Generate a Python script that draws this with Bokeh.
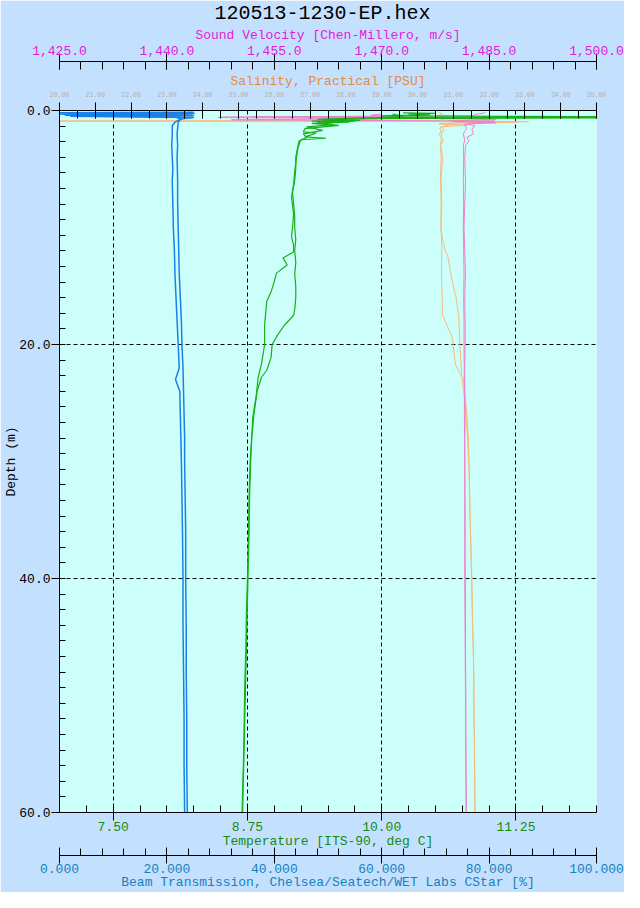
from bokeh.plotting import figure
from bokeh.models import Range1d, LinearAxis, FixedTicker, NumeralTickFormatter, Title
from bokeh.embed import file_html
from bokeh.resources import INLINE

FONT = "Liberation Mono"
PAGE_BG = "#c4e0ff"
PLOT_BG = "#ccfffa"

title_text = "120513-1230-EP.hex"
sv_label = "Sound Velocity [Chen-Millero, m/s]"
sal_label = "Salinity, Practical [PSU]"
temp_label = "Temperature [ITS-90, deg C]"
beam_label = "Beam Transmission, Chelsea/Seatech/WET Labs CStar [%]"
depth_label = "Depth (m)"

# ---- tick definitions ----
temp_ticks = [7.5, 8.75, 10.0, 11.25]
temp_minor = [7.0 + 0.25 * i for i in range(21)]
sv_ticks = [1425, 1440, 1455, 1470, 1485, 1500]
sv_minor = [1425 + 3 * i for i in range(26)]
sal_ticks = [20 + i for i in range(16)]
sal_minor = [20 + 0.5 * i for i in range(31)]
beam_ticks = [0, 20, 40, 60, 80, 100]
beam_minor = [4 * i for i in range(26)]
depth_ticks = [0, 20, 40, 60]
depth_minor = [i * 4 / 3 for i in range(46)]

# ---- data: beam transmission (%) ----
beam_depth_a = [0.15, 0.2, 0.25, 0.3, 0.35, 0.4, 0.45, 0.5, 0.55, 0.6, 0.7, 0.8, 1.0, 1.3, 2, 3, 4, 5, 6, 8,
                10, 12, 14, 16, 18, 20, 22, 23, 24, 26, 28, 30, 33, 36, 40, 44, 48, 52, 56, 60]
beam_a = [25.0, 0.0, 25.2, 0.5, 24.8, 1.0, 25.0, 9.0, 22.5, 21.8, 22.6, 22.3, 21.5, 21.0, 21.0, 20.9, 21.0, 21.1, 21.0, 21.1,
          21.2, 21.4, 21.5, 21.7, 21.9, 22.1, 22.3, 21.6, 22.4, 22.5, 22.6, 22.7, 22.8, 22.9, 23.0, 23.0, 23.1, 23.2, 23.2, 23.3]
beam_depth_b = [0.3, 0.4, 0.5, 0.6, 0.7, 0.8, 0.9, 1.0, 1.5, 2, 3, 4, 6, 8, 10, 12, 14, 16, 18, 20,
                22, 24, 26, 28, 30, 33, 36, 40, 44, 48, 52, 56, 60]
beam_b = [0.0, 24.0, 2.0, 25.0, 23.0, 22.4, 22.3, 22.1, 22.0, 21.9, 22.0, 21.9, 22.0, 22.0, 22.1, 22.2, 22.3, 22.5, 22.7, 22.8,
          23.0, 23.1, 23.2, 23.3, 23.3, 23.4, 23.5, 23.5, 23.6, 23.6, 23.7, 23.7, 23.8]

# ---- data: temperature (deg C) ----
temp_depth_a = [0.2, 0.25, 0.3, 0.35, 0.45, 0.55, 0.6, 0.65, 0.75, 0.85, 0.9, 1.0, 1.1, 1.27, 1.55, 1.83, 1.94, 2.26, 2.37, 2.5,
                2.68, 3.2, 3.8, 4.5, 5.2, 6.3, 7.4, 8.9, 10.0, 10.8, 11.5, 12.1, 12.6, 13.2, 13.9, 14.6, 15.5, 16.3, 17.3, 18.3,
                20.0, 21.7, 22.8, 24.5, 26.2, 27.9, 30, 33, 36, 40, 43, 46, 49, 52, 55, 58, 60]
temp_a = [10.2, 10.5, 10.25, 10.45, 10.0, 12.6, 10.0, 9.75, 9.4, 9.8, 9.35, 9.7, 9.35, 9.6, 9.285, 9.27, 9.39, 9.285, 9.48, 9.25,
          9.24, 9.22, 9.21, 9.20, 9.19, 9.18, 9.16, 9.18, 9.17, 9.16, 9.18, 9.18, 9.08, 9.12, 9.02, 9.0, 8.97, 8.93, 8.92, 8.91,
          8.91, 8.88, 8.85, 8.83, 8.80, 8.79, 8.775, 8.765, 8.76, 8.75, 8.74, 8.735, 8.725, 8.72, 8.715, 8.705, 8.70]
temp_depth_b = [0.3, 0.5, 0.57, 0.62, 0.7, 0.8, 0.9, 1.0, 1.2, 1.4, 1.7, 2.0, 2.3, 2.6, 3.0, 4, 5, 6, 7, 8,
                9, 10, 11, 12, 13, 14, 15, 16, 17, 17.5, 18.4, 19.2, 20, 21.1, 22.2, 22.8, 24, 26, 28, 30,
                33, 36, 40, 44, 48, 52, 56, 60]
temp_b = [10.1, 10.2, 10.0, 12.6, 9.9, 9.45, 9.75, 9.4, 9.55, 9.3, 9.45, 9.27, 9.3, 9.23, 9.22, 9.20, 9.20, 9.19, 9.17, 9.18,
          9.19, 9.19, 9.20, 9.19, 9.2, 9.19, 9.2, 9.2, 9.19, 9.18, 9.09, 9.03, 8.98, 8.97, 8.93, 8.88, 8.84, 8.81, 8.79, 8.78,
          8.77, 8.765, 8.755, 8.745, 8.735, 8.725, 8.715, 8.705]

# ---- data: sound velocity (m/s) ----
sv_depth_a = [0.1, 0.2, 0.35, 0.45, 0.55, 0.6, 0.7, 0.8, 0.9, 0.95, 1.05, 1.15, 1.3, 1.6, 2.0, 2.3, 2.6, 3.0, 4, 6,
              8, 10, 12, 14, 16, 18, 20, 22, 24, 26, 28, 30, 34, 38, 42, 46, 50, 54, 58, 60]
sv_a = [1484.4, 1484.4, 1483.0, 1482.6, 1448.0, 1447.2, 1469.5, 1449.0, 1485.8, 1480.0, 1486.0, 1482.0, 1483.0, 1482.6, 1482.8,
        1481.9, 1482.2, 1481.7, 1481.6, 1481.7, 1481.6, 1481.5, 1481.6, 1481.7, 1481.6, 1481.65, 1481.65, 1481.6, 1481.6,
        1481.65, 1481.6, 1481.6, 1481.65, 1481.65, 1481.7, 1481.7, 1481.75, 1481.75, 1481.8, 1481.8]
sv_depth_b = [0.3, 0.4, 0.5, 0.55, 0.65, 0.75, 0.85, 1.0, 1.2, 1.5, 2.0, 2.5, 3, 4, 6, 8, 10, 12, 14, 16,
              18, 20, 23, 26, 30, 35, 40, 45, 50, 55, 60]
sv_b = [1470.0, 1468.5, 1470.2, 1452.0, 1478.0, 1486.0, 1479.5, 1484.5, 1481.5, 1481.9, 1481.4, 1481.6, 1481.4, 1481.45,
        1481.4, 1481.45, 1481.4, 1481.45, 1481.5, 1481.45, 1481.5, 1481.5, 1481.55, 1481.55, 1481.6, 1481.6, 1481.6,
        1481.65, 1481.7, 1481.75, 1481.8]

# ---- data: salinity (PSU) ----
sal_depth_a = [0.15, 0.3, 0.5, 0.7, 0.85, 0.9, 0.95, 1.05, 1.15, 1.25, 1.4, 1.7, 2.0, 2.5, 3, 4, 6, 8, 10, 12,
               14, 16, 17.5, 18.4, 19.4, 21.7, 22.5, 22.8, 24, 26, 28, 30, 33, 36, 40, 43, 46, 48, 52, 56, 60]
sal_a = [30.6, 30.7, 30.55, 30.75, 30.6, 15.0, 33.1, 31.2, 30.6, 31.4, 30.65, 30.75, 30.6, 30.72, 30.65, 30.7, 30.66, 30.68,
         30.66, 30.68, 30.67, 30.69, 30.70, 30.83, 30.97, 31.06, 31.19, 31.28, 31.32, 31.38, 31.42, 31.44, 31.46, 31.48,
         31.51, 31.53, 31.56, 31.57, 31.58, 31.59, 31.60]
sal_depth_b = [0.4, 0.6, 0.8, 1.0, 1.1, 1.2, 1.5, 2, 3, 4, 6, 8, 10, 11, 12, 12.5, 13.8, 15, 16, 17.5,
               20.3, 22.8, 25, 28, 31, 35, 40, 44, 48, 52, 56, 60]
sal_b = [30.8, 30.55, 30.75, 32.8, 30.65, 30.9, 30.62, 30.68, 30.64, 30.66, 30.64, 30.66, 30.65, 30.70, 30.78, 30.85,
         30.92, 31.0, 31.08, 31.15, 31.19, 31.24, 31.33, 31.40, 31.44, 31.47, 31.52, 31.54, 31.57, 31.58, 31.60, 31.61]

C_BEAM = "#1a80e8"
C_TEMP = "#18b018"
C_SV = "#f080c8"
C_SAL = "#f4bc80"

p = figure(width=624, height=892, output_backend="svg", toolbar_location=None,
           x_range=Range1d(7.0, 12.0), y_range=Range1d(60, 0),
           min_border_left=59, min_border_right=28, min_border_top=100, min_border_bottom=78,
           background_fill_color=PLOT_BG, border_fill_color=PAGE_BG, outline_line_color=None)
p.extra_x_ranges = {"sv": Range1d(1425, 1500), "sal": Range1d(20, 35), "beam": Range1d(0, 100)}


def style_axis(ax, label, lcolor, tcolor, ticks, minor, fmt, tsize="13px"):
    ax.ticker = FixedTicker(ticks=ticks, minor_ticks=minor)
    ax.formatter = NumeralTickFormatter(format=fmt)
    ax.axis_label = label
    ax.axis_label_text_font = FONT
    ax.axis_label_text_font_size = "13px"
    ax.axis_label_text_font_style = "normal"
    ax.axis_label_text_color = lcolor
    ax.major_label_text_font = FONT
    ax.major_label_text_font_size = tsize
    ax.major_label_text_color = tcolor
    ax.axis_line_color = "black"
    ax.major_tick_line_color = "black"
    ax.minor_tick_line_color = "black"


# temperature (bottom, closest)
tax = p.xaxis[0]
style_axis(tax, temp_label, "#148a14", "#148a14", temp_ticks, temp_minor, "0.00")
tax.major_tick_in, tax.major_tick_out, tax.minor_tick_in, tax.minor_tick_out = 7, 8, 7, 0
tax.major_label_standoff, tax.axis_label_standoff = 1, 0

# depth (left)
dax = p.yaxis[0]
style_axis(dax, depth_label, "black", "black", depth_ticks, depth_minor, "0.0")
dax.major_tick_in, dax.major_tick_out, dax.minor_tick_in, dax.minor_tick_out = 0, 8, 6, 0
dax.major_label_standoff, dax.axis_label_standoff = 1, -3

# salinity (top, closest)
sal_ax = LinearAxis(x_range_name="sal")
style_axis(sal_ax, sal_label, "#e48c3c", "#b4aea8", sal_ticks, sal_minor, "0.00", tsize="6.5px")
sal_ax.major_tick_in, sal_ax.major_tick_out, sal_ax.minor_tick_in, sal_ax.minor_tick_out = 8, 8, 8, 0
sal_ax.major_label_standoff, sal_ax.axis_label_standoff = 6, 0
p.add_layout(sal_ax, "above")
p.add_layout(Title(text=" ", text_font_size="1px", standoff=6), "above")

# sound velocity (top, outer)
sv_ax = LinearAxis(x_range_name="sv")
style_axis(sv_ax, sv_label, "#e020d8", "#e020d8", sv_ticks, sv_minor, "0,0.0")
sv_ax.major_tick_in, sv_ax.major_tick_out, sv_ax.minor_tick_in, sv_ax.minor_tick_out = 8, 8, 8, 0
sv_ax.major_label_standoff, sv_ax.axis_label_standoff = -1, 0
p.add_layout(sv_ax, "above")

# beam transmission (bottom, outer)
p.add_layout(Title(text=" ", text_font_size="1px", standoff=1), "below")
bax = LinearAxis(x_range_name="beam")
style_axis(bax, beam_label, "#1880b8", "#1880b8", beam_ticks, beam_minor, "0.000")
bax.major_tick_in, bax.major_tick_out, bax.minor_tick_in, bax.minor_tick_out = 8, 8, 7, 0
bax.major_label_standoff, bax.axis_label_standoff = 0, -1
p.add_layout(bax, "below")

# title
p.title.text = title_text
p.title.text_font = FONT
p.title.text_font_size = "20px"
p.title.text_font_style = "normal"
p.title.text_color = "black"
p.title.align = "left"
p.title.offset = 155
p.title.standoff = -1

# grids
p.xgrid.ticker = FixedTicker(ticks=temp_ticks)
p.ygrid.ticker = FixedTicker(ticks=[20, 40])
for g in (p.xgrid, p.ygrid):
    g.grid_line_color = "black"
    g.grid_line_dash = "4 3"
    g.grid_line_width = 1

# profiles
p.line(sal_a, sal_depth_a, x_range_name="sal", line_color=C_SAL, line_width=1)
p.line(sal_b, sal_depth_b, x_range_name="sal", line_color=C_SAL, line_width=1)
p.line(sv_a, sv_depth_a, x_range_name="sv", line_color=C_SV, line_width=1)
p.line(sv_b, sv_depth_b, x_range_name="sv", line_color=C_SV, line_width=1)
p.line(beam_a, beam_depth_a, x_range_name="beam", line_color=C_BEAM, line_width=1.5)
p.line(beam_b, beam_depth_b, x_range_name="beam", line_color=C_BEAM, line_width=1.5)
p.line(temp_a, temp_depth_a, line_color=C_TEMP, line_width=1.2)
p.line(temp_b, temp_depth_b, line_color=C_TEMP, line_width=1.2)

html = file_html(p, INLINE)
html = html.replace("<body>", '<body style="background-color:#c4e0ff;">', 1)
open("out.html", "w").write(html)
